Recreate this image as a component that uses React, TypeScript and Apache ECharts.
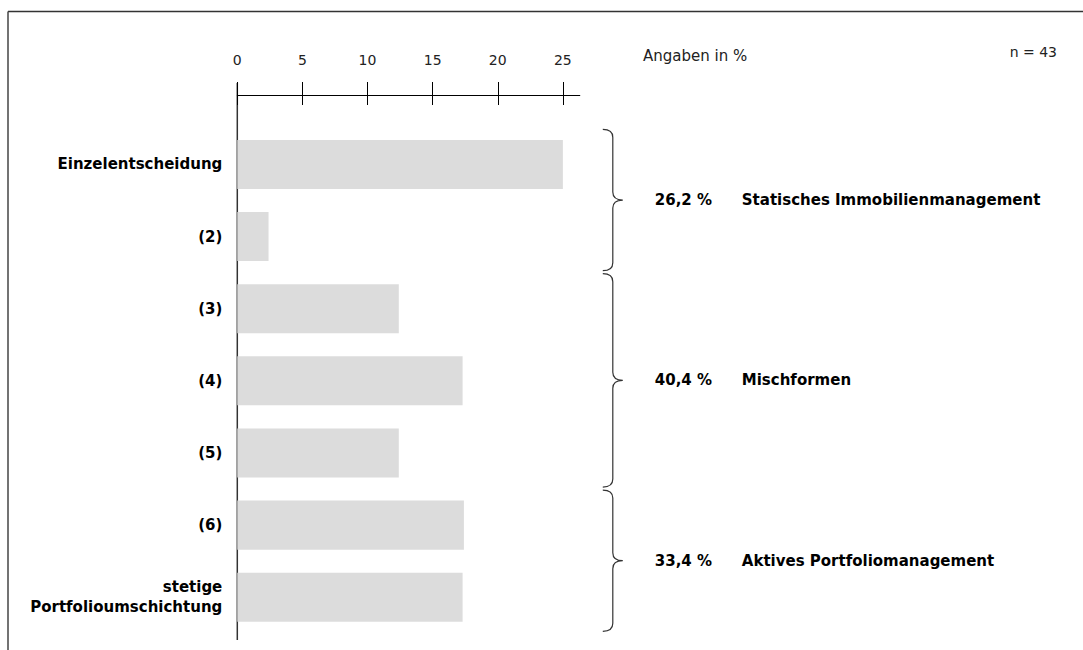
import React, { useEffect, useRef } from "react";
import * as echarts from "echarts";

const categories = [
  "Einzelentscheidung",
  "(2)",
  "(3)",
  "(4)",
  "(5)",
  "(6)",
  "stetige\nPortfolioumschichtung",
];
const values = [25.0, 2.4, 12.4, 17.3, 12.4, 17.4, 17.3];
const tickValues = [0, 5, 10, 15, 20, 25];
const groupStart = [0, 2, 5];
const groupEnd = [1, 4, 6];
const groupShares = ["26,2 %", "40,4 %", "33,4 %"];
const groupLabels = [
  "Statisches Immobilienmanagement",
  "Mischformen",
  "Aktives Portfoliomanagement",
];
const unitLabel = "Angaben in %";
const sampleLabel = "n = 43";

const FONT = '"DejaVu Sans", "Liberation Sans", sans-serif';

export default function App() {
  const ref = useRef<HTMLDivElement>(null);

  useEffect(() => {
    if (!ref.current) return;
    const chart = echarts.init(ref.current, null, { renderer: "svg" });

    const groupData = groupStart.map((s, i) => [s, groupEnd[i], i]);

    const renderItem = (params: any, api: any) => {
      const s = api.value(0);
      const e = api.value(1);
      const i = api.value(2);
      const bandH = api.size([0, 1])[1];
      const top = api.coord([0, s])[1] - bandH / 2 + 1;
      const bot = api.coord([0, e])[1] + bandH / 2 - 2;
      const mid = (top + bot) / 2;
      const cs = params.coordSys;
      const right = cs.x + cs.width;
      const x0 = right + 23;
      const xm = right + 33;
      const xp = right + 43;
      const r = 8;
      const d =
        `M${x0},${top} Q${xm},${top} ${xm},${top + r} ` +
        `L${xm},${mid - r} Q${xm},${mid} ${xp},${mid} ` +
        `Q${xm},${mid} ${xm},${mid + r} ` +
        `L${xm},${bot - r} Q${xm},${bot} ${x0},${bot}`;
      return {
        type: "group",
        children: [
          {
            type: "path",
            shape: { pathData: d },
            style: { stroke: "#333", fill: "none", lineWidth: 1.2 },
          },
          {
            type: "text",
            x: right + 75,
            y: mid,
            style: {
              text: groupShares[i],
              fill: "#000",
              fontFamily: FONT,
              fontWeight: "bold",
              fontSize: 15,
              align: "left",
              verticalAlign: "middle",
            },
          },
          {
            type: "text",
            x: right + 162,
            y: mid,
            style: {
              text: groupLabels[i],
              fill: "#000",
              fontFamily: FONT,
              fontWeight: "bold",
              fontSize: 15,
              align: "left",
              verticalAlign: "middle",
            },
          },
        ],
      };
    };

    chart.setOption({
      animation: false,
      backgroundColor: "#ffffff",
      grid: { left: 237.3, top: 128.4, width: 342.5, height: 504.9 },
      xAxis: [
        {
          type: "value",
          position: "top",
          min: 0,
          max: 26.3,
          interval: 5,
          offset: 33.4,
          axisLine: { show: true, lineStyle: { color: "#000", width: 1 } },
          axisTick: {
            show: true,
            length: 13,
            customValues: tickValues,
            lineStyle: { color: "#000", width: 1 },
          },
          axisLabel: {
            customValues: tickValues,
            hideOverlap: false,
            margin: 28,
            color: "#222",
            fontFamily: FONT,
            fontSize: 14,
            formatter: (v: number) => (v % 5 === 0 ? String(v) : ""),
          },
          splitLine: { show: false },
        },
        {
          type: "value",
          position: "top",
          min: 0,
          max: 26.3,
          interval: 5,
          offset: 33.4,
          axisLine: { show: false },
          axisTick: {
            show: true,
            inside: true,
            length: 10,
            customValues: tickValues,
            lineStyle: { color: "#000", width: 1 },
          },
          axisLabel: { show: false },
          splitLine: { show: false },
        },
      ],
      yAxis: {
        type: "category",
        inverse: true,
        data: categories,
        axisLine: { show: false },
        axisTick: { show: false },
        axisLabel: {
          margin: 15,
          color: "#000",
          fontFamily: FONT,
          fontWeight: "bold",
          fontSize: 15,
          lineHeight: 20,
          align: "right",
        },
      },
      series: [
        {
          type: "bar",
          xAxisIndex: 0,
          data: values,
          barWidth: "68%",
          itemStyle: { color: "#dcdcdc" },
        },
        {
          type: "custom",
          xAxisIndex: 0,
          renderItem,
          data: groupData,
          encode: { x: 2, y: 0 },
          clip: false,
          silent: true,
        },
      ],
      graphic: [
        {
          type: "line",
          shape: { x1: 8, y1: 11.5, x2: 1083, y2: 11.5 },
          style: { stroke: "#333", lineWidth: 1.5 },
        },
        {
          type: "line",
          shape: { x1: 8, y1: 11.5, x2: 8, y2: 650 },
          style: { stroke: "#444", lineWidth: 1.5 },
        },
        {
          type: "line",
          shape: { x1: 237.3, y1: 83, x2: 237.3, y2: 640 },
          style: { stroke: "#333", lineWidth: 1.5 },
        },
        {
          type: "text",
          x: 643,
          y: 56,
          style: {
            text: unitLabel,
            fill: "#222",
            fontFamily: FONT,
            fontSize: 15,
            align: "left",
            verticalAlign: "middle",
          },
        },
        {
          type: "text",
          x: 1057,
          y: 52,
          style: {
            text: sampleLabel,
            fill: "#222",
            fontFamily: FONT,
            fontSize: 14,
            align: "right",
            verticalAlign: "middle",
          },
        },
      ],
    });

    return () => chart.dispose();
  }, []);

  return (
    <div
      ref={ref}
      style={{ position: "fixed", left: 0, top: 0, width: 1083, height: 650 }}
    />
  );
}
